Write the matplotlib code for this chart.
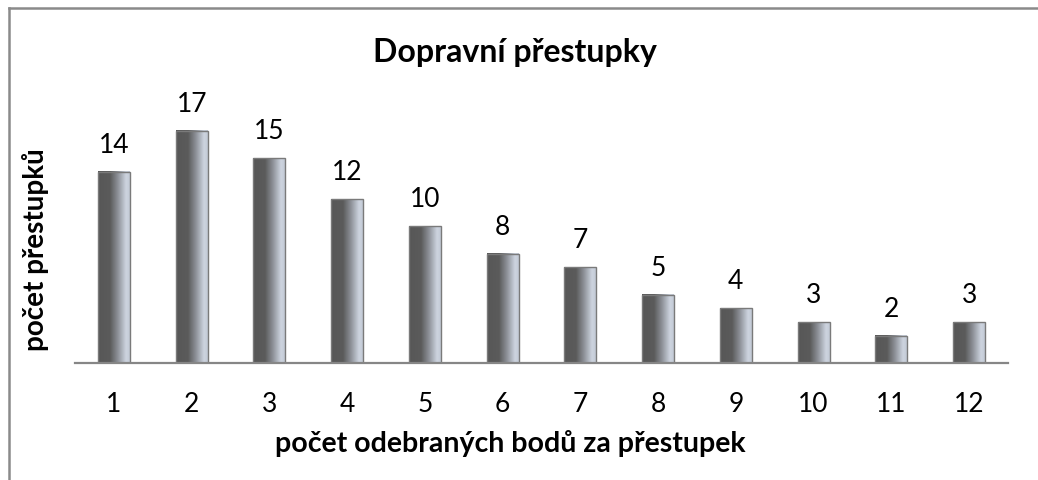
import numpy as np
import matplotlib
matplotlib.use("Agg")
import matplotlib.pyplot as plt  # noqa
from matplotlib.colors import LinearSegmentedColormap  # noqa
from matplotlib.lines import Line2D  # noqa

# Data
points = ["1", "2", "3", "4", "5", "6", "7", "8", "9", "10", "11", "12"]
counts = [14, 17, 15, 12, 10, 8, 7, 5, 4, 3, 2, 3]

title = "Dopravní přestupky"
xlabel = "počet odebraných bodů za přestupek"
ylabel = "počet přestupků"

plt.rcParams["font.family"] = ["Lato", "DejaVu Sans"]

# Horizontal gradient like the Excel cylinder-ish bars
cmap = LinearSegmentedColormap.from_list("bar", [
    (0.0, "#575757"),
    (0.38, "#5b5b5b"),
    (0.62, "#8c9097"),
    (0.88, "#cdd4df"),
    (1.0, "#c3cad6"),
])
grad = np.linspace(0, 1, 256).reshape(1, -1)

fig = plt.figure(figsize=(10.38, 4.8), dpi=100)
ax = fig.add_axes([0.0723, 0.24375, 0.8988, 0.5694])

x = np.arange(len(points))
width = 0.41
for xi, h in zip(x, counts):
    ax.imshow(grad, cmap=cmap, aspect="auto", interpolation="bilinear",
              extent=(xi - width/2, xi + width/2, 0, h), zorder=2)
ax.bar(x, counts, width=width, fill=False, edgecolor="#7a7a7a",
       linewidth=1.0, zorder=3)

# Value labels
for xi, h in zip(x, counts):
    ax.text(xi, h + 1.95, str(h), ha="center", va="center", fontsize=19,
            color="black")

ax.set_xlim(-0.5, len(points) - 0.5)
ax.set_ylim(0, 20)
ax.set_xticks(x)
ax.set_xticklabels(points, fontsize=19)
ax.tick_params(axis="x", length=0, pad=21)
ax.set_yticks([])
for side in ["top", "right", "left"]:
    ax.spines[side].set_visible(False)
ax.spines["bottom"].set_color("#868686")
ax.spines["bottom"].set_linewidth(1.6)
ax.spines["bottom"].set_zorder(4)

fig.text(0.496, 0.89, title, ha="center", va="center", fontsize=23,
         fontweight="bold")
fig.text(0.492, 0.077, xlabel, ha="center", va="center", fontsize=20.5,
         fontweight="bold")
fig.text(0.034, 0.48, ylabel, ha="center", va="center", fontsize=20,
         fontweight="bold", rotation=90)

# Chart area border (runs off the right and bottom edges)
fig.add_artist(Line2D([0.0085, 0.0085], [0, 0.983], color="#8a8a8a",
                      linewidth=1.8, transform=fig.transFigure))
fig.add_artist(Line2D([0.0085, 1.0], [0.983, 0.983], color="#8a8a8a",
                      linewidth=1.8, transform=fig.transFigure))

fig.savefig("out.png", dpi=100)
